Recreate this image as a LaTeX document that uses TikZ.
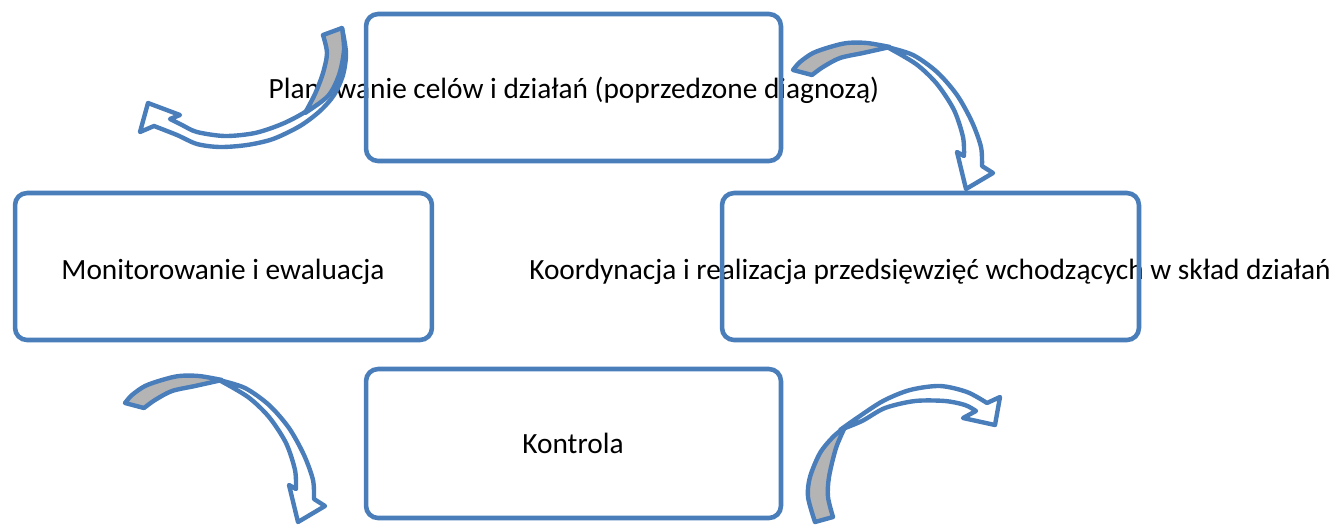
\documentclass[tikz,border=0pt]{standalone}
\usepackage{fontspec}
\setmainfont{Carlito}
\definecolor{ablue}{HTML}{4A7EBB}
\definecolor{agray}{HTML}{B4B4B4}
\tikzset{
  box/.style={draw=ablue, line width=2.6pt, rounded corners=0.24cm, inner sep=0pt},
  lbl/.style={font=\fontsize{16.7}{20}\selectfont, anchor=base, inner sep=0pt},
  arr/.style={draw=ablue, line width=2.5pt, line join=round, fill=white},
  backpart/.style={draw=ablue, line width=2.5pt, line join=round, fill=agray},
  curvA/.pic={
    \path[arr] (887,47) -- plot[smooth] coordinates {(887,47) (913,55) (937,72) (957,95) (972,122) (981,147) (982,166)}
      -- (993,173) -- (966,189) -- (957,152) -- (964,156)
      -- plot[smooth] coordinates {(964,156) (963,137) (954,110) (937,84) (916,64) (887,47)} -- cycle;
    \path[backpart] plot[smooth] coordinates {(793,70) (800,62) (813,53) (830,47) (847,43) (867,43) (890,47)}
      -- plot[smooth] coordinates {(890,47) (863,53) (840,58) (823,67) (812,75)} -- cycle;
  }
}
\begin{document}
\begin{tikzpicture}[x=0.02cm,y=-0.02cm]
\useasboundingbox (0,0) rectangle (1339,525);
% texts
\node[lbl] (t1) at (574,98) {Planowanie celów i działań (poprzedzone diagnozą)};
\node[lbl] (t2) at (223,279) {Monitorowanie i ewaluacja};
\node[lbl] (t3) at (930,279) {Koordynacja i realizacja przedsięwzięć wchodzących w skład działań};
\node[lbl] (t4) at (573,453) {Kontrola};
% boxes
\node[box, minimum width=8.3cm, minimum height=2.94cm] (plan) at (573.5,87.5) {};
\node[box, minimum width=8.34cm, minimum height=2.94cm] (mon) at (223.5,266.5) {};
\node[box, minimum width=8.34cm, minimum height=2.94cm] (koord) at (930.5,266.5) {};
\node[box, minimum width=8.3cm, minimum height=2.98cm] (kontr) at (573.5,443.5) {};
% arrow top-left
\path[arr] plot[smooth] coordinates {(342,28) (346,53) (343,75) (334,95) (320,111) (300,126) (273,139) (247,145) (220,147) (197,144) (177,135) (154,126)}
  -- (140,132) -- (148,103) -- (180,115) -- (170,119)
  -- plot[smooth] coordinates {(170,119) (182,125) (197,132) (225,136) (255,133) (282,124) (305,112) (325,96) (337,74) (341,50) (342,28)} -- cycle;
\path[backpart] (323,35) -- (342,28) -- plot[smooth] coordinates {(342,28) (344,50) (339,75) (328,96) (305,113)}
  -- plot[smooth] coordinates {(305,113) (315,94) (323,73) (327,53) (323,35)} -- cycle;
% arrows top-right and bottom-left
\pic at (0,0) {curvA};
\pic at (-668,333) {curvA};
% arrow bottom-right
\path[arr] plot[smooth] coordinates {(840,430) (857,418) (883,401) (910,390) (940,386) (967,392) (987,403)}
  -- (1000,397) -- (995,425) -- (963,418) -- (976,411)
  -- plot[smooth] coordinates {(976,411) (965,405) (945,401) (915,401) (885,408) (862,421) (840,430)} -- cycle;
\path[backpart] plot[smooth] coordinates {(815,522) (808,497) (810,477) (820,453) (833,437) (845,427)}
  -- plot[smooth] coordinates {(845,427) (836,448) (829,477) (828,497) (833,517)} -- cycle;
\end{tikzpicture}
\end{document}
